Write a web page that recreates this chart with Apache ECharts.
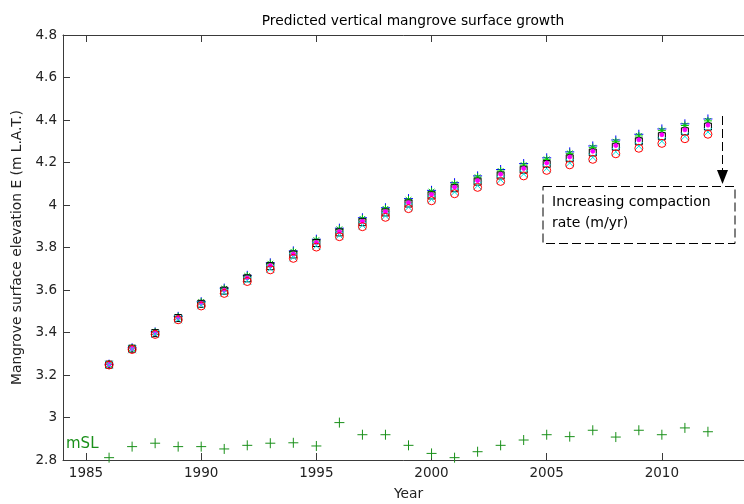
<!DOCTYPE html>
<html>
<head>
<meta charset="utf-8">
<script src="https://cdn.jsdelivr.net/npm/echarts@6/dist/echarts.min.js"></script>
<style>
  html, body { margin: 0; padding: 0; background: #fff; }
  #chart { width: 744px; height: 504px; }
</style>
</head>
<body>
<div id="chart"></div>
<script>
// Years of the simulation
const years = [1986, 1987, 1988, 1989, 1990, 1991, 1992, 1993, 1994, 1995, 1996, 1997, 1998, 1999,
               2000, 2001, 2002, 2003, 2004, 2005, 2006, 2007, 2008, 2009, 2010, 2011, 2012];

// Predicted surface elevation (m L.A.T.), one run per compaction rate (lowest rate first)
const elevBlue    = [3.251, 3.328, 3.403, 3.476, 3.545, 3.609, 3.669, 3.728, 3.784, 3.839, 3.891, 3.940, 3.987, 4.030,
                     4.069, 4.105, 4.137, 4.167, 4.195, 4.222, 4.250, 4.278, 4.306, 4.333, 4.358, 4.382, 4.405];
const elevGreen   = [3.251, 3.327, 3.402, 3.474, 3.543, 3.606, 3.666, 3.724, 3.780, 3.835, 3.886, 3.935, 3.982, 4.024,
                     4.063, 4.099, 4.131, 4.160, 4.188, 4.215, 4.243, 4.270, 4.298, 4.325, 4.350, 4.374, 4.396];
const elevMagenta = [3.249, 3.325, 3.398, 3.470, 3.537, 3.599, 3.657, 3.715, 3.770, 3.824, 3.875, 3.923, 3.969, 4.011,
                     4.049, 4.084, 4.115, 4.145, 4.172, 4.198, 4.226, 4.253, 4.280, 4.307, 4.331, 4.354, 4.376];
const elevBlack   = [3.249, 3.324, 3.397, 3.468, 3.535, 3.597, 3.655, 3.712, 3.767, 3.821, 3.871, 3.919, 3.965, 4.007,
                     4.045, 4.079, 4.110, 4.139, 4.166, 4.193, 4.220, 4.247, 4.274, 4.300, 4.324, 4.347, 4.369];
const elevCyan    = [3.248, 3.321, 3.393, 3.462, 3.528, 3.588, 3.644, 3.700, 3.754, 3.808, 3.857, 3.904, 3.949, 3.990,
                     4.027, 4.061, 4.091, 4.119, 4.146, 4.172, 4.198, 4.224, 4.251, 4.277, 4.300, 4.323, 4.344];
const elevRed     = [3.247, 3.320, 3.391, 3.460, 3.525, 3.584, 3.640, 3.695, 3.749, 3.802, 3.851, 3.898, 3.942, 3.983,
                     4.020, 4.053, 4.083, 4.111, 4.137, 4.163, 4.189, 4.215, 4.241, 4.267, 4.290, 4.312, 4.333];

// Annual mean sea level (m L.A.T.)
const meanSeaLevel = [2.811, 2.863, 2.879, 2.863, 2.863, 2.852, 2.869, 2.879, 2.881, 2.866, 2.976, 2.919, 2.919, 2.869,
                      2.831, 2.811, 2.839, 2.869, 2.894, 2.919, 2.910, 2.940, 2.908, 2.940, 2.919, 2.951, 2.933];

// Axis tick labels
const yearTicks = [1985, 1990, 1995, 2000, 2005, 2010];
const elevTicks = [2.8, 3, 3.2, 3.4, 3.6, 3.8, 4, 4.2, 4.4, 4.6, 4.8];

const FONT = '"DejaVu Sans", "Liberation Sans", sans-serif';
const AXIS_COLOR = '#3a3a3a';

const SYM_PLUS  = 'path://M0,5L10,5M5,0L5,10';
const SYM_STAR  = 'path://M0,5L10,5M5,0L5,10M1.5,1.5L8.5,8.5M8.5,1.5L1.5,8.5';
const SYM_CROSS = 'path://M0,0L10,10M10,0L0,10';

function pairs(vals) {
  return years.map((y, i) => [y, vals[i]]);
}

function markerSeries(name, vals, symbol, size, stroke, fill) {
  return {
    name: name,
    type: 'scatter',
    data: pairs(vals),
    symbol: symbol,
    symbolSize: size,
    itemStyle: { color: fill || 'none', borderColor: stroke, borderWidth: 1, opacity: 1 },
    emphasis: { disabled: true },
    silent: true
  };
}

const chart = echarts.init(document.getElementById('chart'), null, { renderer: 'canvas' });

chart.setOption({
  animation: false,
  backgroundColor: '#ffffff',
  title: {
    text: 'Predicted vertical mangrove surface growth',
    left: 408, top: 9, textAlign: 'center',
    textStyle: { fontFamily: FONT, fontSize: 13.8, fontWeight: 'normal', color: '#000' }
  },
  grid: { left: 63, top: 35, right: -10, bottom: 44, containLabel: false, outerBoundsMode: 'none' },
  xAxis: [{
    type: 'value', min: 1984, max: 2014, position: 'bottom',
    name: 'Year', nameLocation: 'middle', nameGap: 27,
    nameTextStyle: { fontFamily: FONT, fontSize: 13.8, color: '#222' },
    axisLine: { show: true, onZero: false, lineStyle: { color: AXIS_COLOR, width: 1 } },
    axisTick: { show: true, inside: true, length: 7, customValues: yearTicks, lineStyle: { color: AXIS_COLOR } },
    axisLabel: { show: true, customValues: yearTicks, margin: 6, fontFamily: FONT, fontSize: 13.5, color: '#222',
                 formatter: v => String(Math.round(v)) },
    splitLine: { show: false }
  }, {
    type: 'value', min: 1984, max: 2014, position: 'top',
    axisLine: { show: true, onZero: false, lineStyle: { color: AXIS_COLOR, width: 1 } },
    axisTick: { show: true, inside: true, length: 7, customValues: yearTicks, lineStyle: { color: AXIS_COLOR } },
    axisLabel: { show: false },
    splitLine: { show: false }
  }],
  yAxis: {
    type: 'value', min: 2.8, max: 4.8,
    name: 'Mangrove surface elevation E (m L.A.T.)', nameLocation: 'middle', nameGap: 38,
    nameTextStyle: { fontFamily: FONT, fontSize: 13.8, color: '#222' },
    axisLine: { show: true, onZero: false, lineStyle: { color: AXIS_COLOR, width: 1 } },
    axisTick: { show: true, inside: true, length: 7, customValues: elevTicks, lineStyle: { color: AXIS_COLOR } },
    axisLabel: { show: true, customValues: elevTicks, margin: 6, fontFamily: FONT, fontSize: 13.5, color: '#222',
                 formatter: v => String(Math.round(v * 10) / 10) },
    splitLine: { show: false }
  },
  series: [
    markerSeries('rate 1', elevBlue, SYM_PLUS, 9, '#0000ff'),
    markerSeries('rate 2', elevGreen, SYM_STAR, 8, '#00d000'),
    markerSeries('rate 3', elevBlack, 'rect', 7, '#000000'),
    markerSeries('rate 4', elevMagenta, 'circle', 4, '#ff00ff', '#ff00ff'),
    markerSeries('rate 5', elevCyan, SYM_CROSS, 8, '#00e5e5'),
    markerSeries('rate 6', elevRed, 'circle', 8, '#ff0000'),
    markerSeries('mSL', meanSeaLevel, SYM_PLUS, 10, '#1a901a')
  ],
  graphic: [
    { type: 'text', left: 66, top: 437, silent: true,
      style: { text: 'mSL', fill: '#1a901a', font: '15px ' + FONT } },
    // compaction annotation
    { type: 'line', silent: true,
      shape: { x1: 722.5, y1: 116, x2: 722.5, y2: 172 },
      style: { stroke: '#000', lineWidth: 1, lineDash: [9, 4] } },
    { type: 'polygon', silent: true,
      shape: { points: [[717, 170], [728, 170], [722.5, 184]] },
      style: { fill: '#000' } },
    { type: 'rect', silent: true,
      shape: { x: 543, y: 186.5, width: 192, height: 57 },
      style: { fill: 'none', stroke: '#000', lineWidth: 1, lineDash: [9, 4] } },
    { type: 'text', left: 552, top: 192, silent: true,
      style: { text: 'Increasing compaction\nrate (m/yr)', fill: '#000', font: '14px ' + FONT, lineHeight: 21 } }
  ]
});
</script>
</body>
</html>
